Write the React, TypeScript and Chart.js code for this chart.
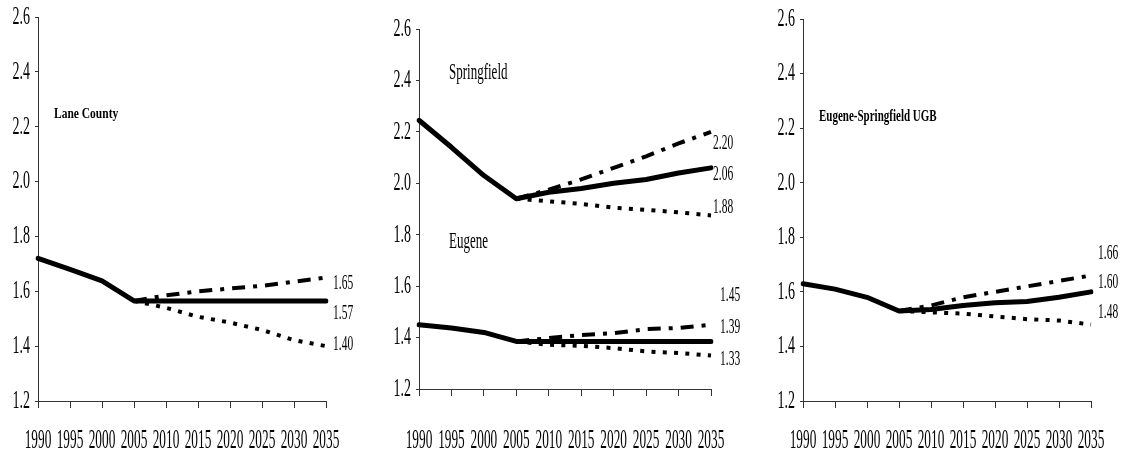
import React, { useEffect, useRef } from 'react';
import { Chart, registerables } from 'chart.js';
Chart.register(...registerables);

const years = ['1990', '1995', '2000', '2005', '2010', '2015', '2020', '2025', '2030', '2035'];
const yMin = 1.2;
const yMax = 2.6;
const yStep = 0.2;

const laneActual = [1.72, 1.68, 1.638, 1.565, 1.565, 1.565, 1.565, 1.565, 1.565, 1.565];
const laneHigh = [null, null, null, 1.565, 1.585, 1.6, 1.61, 1.62, 1.635, 1.65];
const laneLow = [null, null, null, 1.565, 1.54, 1.507, 1.486, 1.459, 1.422, 1.4];

const springActual = [2.245, 2.14, 2.03, 1.94, 1.965, 1.98, 2.0, 2.015, 2.04, 2.06];
const springHigh = [null, null, null, 1.94, 1.975, 2.015, 2.06, 2.105, 2.155, 2.2];
const springLow = [null, null, null, 1.94, 1.93, 1.92, 1.905, 1.897, 1.887, 1.875];

const eugeneActual = [1.45, 1.437, 1.42, 1.385, 1.385, 1.385, 1.385, 1.385, 1.385, 1.385];
const eugeneHigh = [null, null, null, 1.385, 1.398, 1.41, 1.417, 1.433, 1.437, 1.45];
const eugeneLow = [null, null, null, 1.385, 1.372, 1.368, 1.359, 1.346, 1.34, 1.33];

const ugbActual = [1.63, 1.61, 1.58, 1.53, 1.535, 1.55, 1.56, 1.565, 1.58, 1.6];
const ugbHigh = [null, null, null, 1.53, 1.55, 1.58, 1.6, 1.62, 1.64, 1.66];
const ugbLow = [null, null, null, 1.53, 1.525, 1.52, 1.51, 1.5, 1.495, 1.48];

// end-of-line value labels: text and the value height where they sit
const laneEndLabels = [
  { text: '1.65', v: 1.63 },
  { text: '1.57', v: 1.521 },
  { text: '1.40', v: 1.408 },
];
const springEndLabels = [
  { text: '2.20', v: 2.154 },
  { text: '2.06', v: 2.034 },
  { text: '1.88', v: 1.906 },
];
const eugeneEndLabels = [
  { text: '1.45', v: 1.563 },
  { text: '1.39', v: 1.442 },
  { text: '1.33', v: 1.314 },
];
const ugbEndLabels = [
  { text: '1.66', v: 1.74 },
  { text: '1.60', v: 1.634 },
  { text: '1.48', v: 1.524 },
];

const FONT = "'Liberation Serif', 'Times New Roman', serif";

function stretchText(ctx: CanvasRenderingContext2D, text: string, x: number, y: number, size: number, sx: number, sy: number, align: CanvasTextAlign, bold = false) {
  ctx.save();
  ctx.font = `${bold ? 'bold ' : ''}${size}px ${FONT}`;
  ctx.textAlign = align;
  ctx.textBaseline = 'middle';
  ctx.fillStyle = '#000';
  ctx.translate(x, y);
  ctx.scale(sx, sy);
  ctx.fillText(text, 0, 0);
  ctx.restore();
}

function solid(data: (number | null)[]) {
  return {
    data, borderColor: '#000', borderWidth: 5, pointRadius: 0, tension: 0,
    borderCapStyle: 'round', borderJoinStyle: 'round', spanGaps: false,
  };
}
function dashDot(data: (number | null)[]) {
  return {
    data, borderColor: '#000', borderWidth: 4, pointRadius: 0, tension: 0,
    borderDash: [13, 8, 4, 8], borderCapStyle: 'butt', spanGaps: false,
  };
}
function dotted(data: (number | null)[]) {
  return {
    data, borderColor: '#000', borderWidth: 4, pointRadius: 0, tension: 0,
    borderDash: [4, 7.3], borderCapStyle: 'butt', spanGaps: false,
  };
}

type Title = { text: string; v: number; dx: number; size: number; sy: number; bold: boolean };
type EndLabel = { text: string; v: number };
type PanelCfg = {
  left: number; width: number;
  padding: { left: number; right: number; top: number; bottom: number };
  datasets: any[];
  titles: Title[];
  endLabels: { dx: number; items: EndLabel[] }[];
};

const panels: PanelCfg[] = [
  {
    left: 0, width: 370,
    padding: { left: 18, right: 44, top: 17, bottom: 14 },
    datasets: [solid(laneActual), dashDot(laneHigh), dotted(laneLow)],
    titles: [{ text: 'Lane County', v: 2.246, dx: 16, size: 11.5, sy: 1.3, bold: true }],
    endLabels: [{ dx: 7, items: laneEndLabels }],
  },
  {
    left: 370, width: 370,
    padding: { left: 29, right: 29, top: 29, bottom: 26 },
    datasets: [
      solid(springActual), dashDot(springHigh), dotted(springLow),
      solid(eugeneActual), dashDot(eugeneHigh), dotted(eugeneLow),
    ],
    titles: [
      { text: 'Springfield', v: 2.431, dx: 30, size: 13, sy: 1.8, bold: false },
      { text: 'Eugene', v: 1.774, dx: 30, size: 13, sy: 1.8, bold: false },
    ],
    endLabels: [
      { dx: 2, items: springEndLabels },
      { dx: 9, items: eugeneEndLabels },
    ],
  },
  {
    left: 740, width: 383,
    padding: { left: 43, right: 32, top: 19, bottom: 14 },
    datasets: [solid(ugbActual), dashDot(ugbHigh), dotted(ugbLow)],
    titles: [{ text: 'Eugene-Springfield UGB', v: 2.243, dx: 16, size: 11, sy: 1.6, bold: true }],
    endLabels: [{ dx: 7, items: ugbEndLabels }],
  },
];

function Panel({ cfg }: { cfg: PanelCfg }) {
  const ref = useRef<HTMLCanvasElement>(null);
  useEffect(() => {
    if (!ref.current) return;
    const textPlugin = {
      id: 'stretchText',
      afterDraw(chart: any) {
        const ctx = chart.ctx as CanvasRenderingContext2D;
        const x = chart.scales.x;
        const y = chart.scales.y;
        const area = chart.chartArea;
        // y tick labels
        y.ticks.forEach((t: any) => {
          stretchText(ctx, Number(t.value).toFixed(1), area.left - 8, y.getPixelForValue(t.value), 14, 1, 1.85, 'right');
        });
        // x tick labels
        years.forEach((lab, i) => {
          stretchText(ctx, lab, x.getPixelForValue(i), 441, 14, 0.95, 1.9, 'center');
        });
        cfg.titles.forEach((t) => {
          stretchText(ctx, t.text, area.left + t.dx, y.getPixelForValue(t.v), t.size, 1, t.sy, 'left', t.bold);
        });
        cfg.endLabels.forEach((g) => {
          g.items.forEach((it) => {
            stretchText(ctx, it.text, area.right + g.dx, y.getPixelForValue(it.v), 11.5, 1, 1.9, 'left');
          });
        });
      },
    };
    const chart = new Chart(ref.current, {
      type: 'line',
      data: { labels: years, datasets: cfg.datasets },
      options: {
        animation: false,
        responsive: false,
        maintainAspectRatio: false,
        layout: { padding: cfg.padding },
        plugins: { legend: { display: false }, tooltip: { enabled: false }, title: { display: false } },
        scales: {
          x: {
            type: 'category',
            offset: false,
            ticks: { display: false },
            grid: { drawOnChartArea: false, drawTicks: true, tickLength: 7, color: '#333', lineWidth: 1 },
            border: { display: true, color: '#333', width: 1 },
            afterFit: (s: any) => { s.height = 40; },
          },
          y: {
            min: yMin, max: yMax,
            ticks: { display: false, stepSize: yStep },
            grid: { drawOnChartArea: false, drawTicks: true, tickLength: 3, color: '#333', lineWidth: 1 },
            border: { display: true, color: '#333', width: 1 },
            afterFit: (s: any) => { s.width = 20; },
          },
        },
      } as any,
      plugins: [textPlugin],
    });
    return () => chart.destroy();
  }, [cfg]);
  return (
    <canvas
      ref={ref}
      width={cfg.width}
      height={455}
      style={{ position: 'absolute', left: cfg.left, top: 0, width: cfg.width, height: 455 }}
    />
  );
}

export default function App() {
  return (
    <div style={{ position: 'fixed', left: 0, top: 0, width: 1123, height: 455, background: '#fff' }}>
      {panels.map((p, i) => <Panel key={i} cfg={p} />)}
    </div>
  );
}
